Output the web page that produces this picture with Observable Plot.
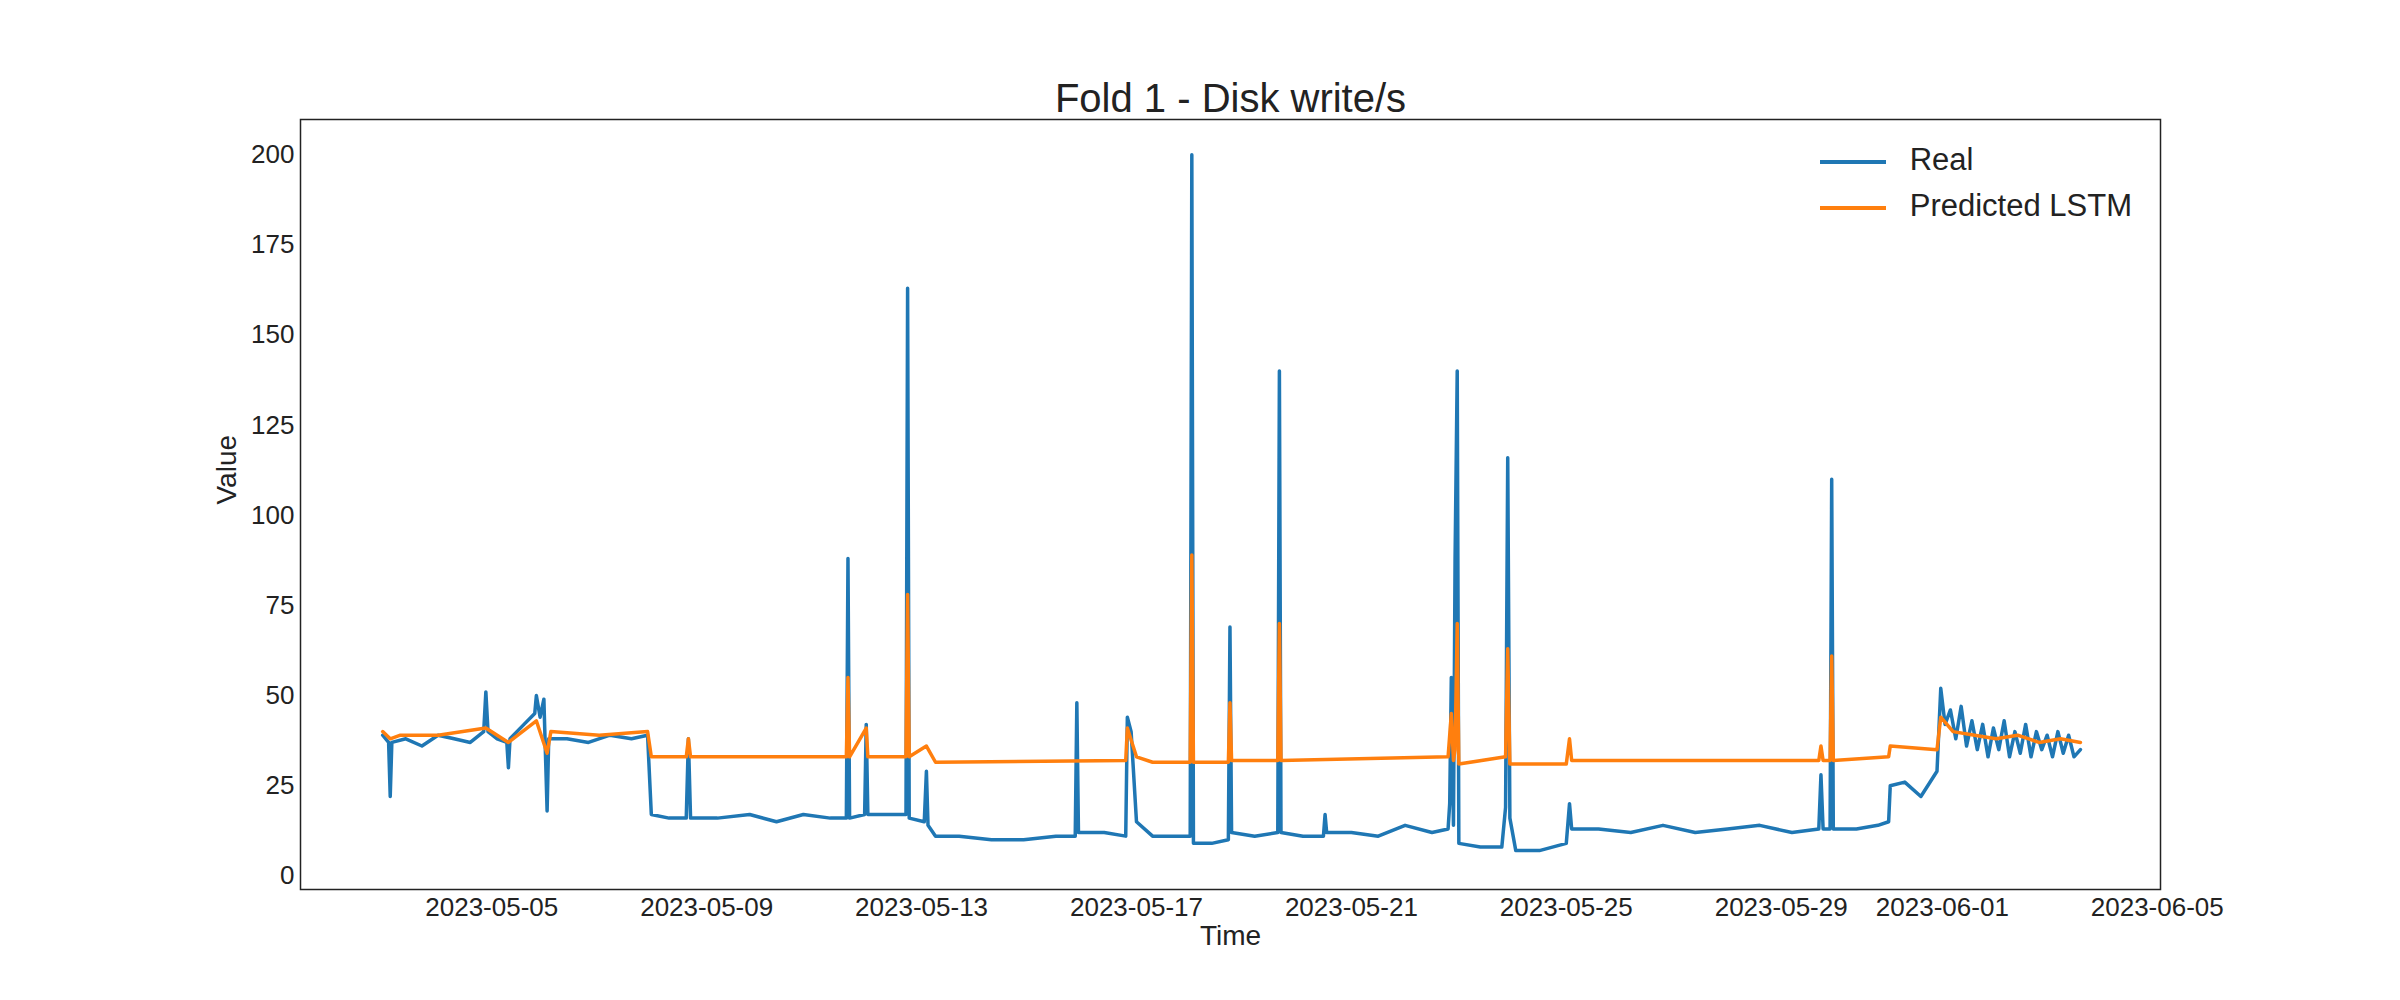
<!DOCTYPE html>
<html><head><meta charset="utf-8">
<script src="https://cdn.jsdelivr.net/npm/d3@7"></script>
<script src="https://cdn.jsdelivr.net/npm/@observablehq/plot@0.6"></script>
<style>
body{margin:0;background:#fff;font-family:"Liberation Sans",Arial,sans-serif}
#wrap{position:relative;width:2400px;height:1000px}
#legend{position:absolute;right:268px;top:137px;font-size:31px;color:#222;line-height:46px}
#legend span.sw{display:inline-block;width:66px;height:4px;vertical-align:middle;margin-right:24px}
</style></head>
<body><div id="wrap"><div id="chart"></div>
<div id="legend"><div><span class="sw" style="background:#1f77b4"></span>Real</div><div><span class="sw" style="background:#ff7f0e"></span>Predicted LSTM</div></div></div>
<script>
// day-of-May (June = 32+)
const realDay = [2.97,3.08,3.11,3.14,3.4,3.7,4.0,4.3,4.6,4.85,4.89,4.93,5.1,5.28,5.31,5.34,5.6,5.8,5.83,5.9,5.97,6.03,6.06,6.4,6.8,7.2,7.6,7.9,7.97,8.3,8.62,8.66,8.70,9.2,9.8,10.3,10.8,11.3,11.6,11.63,11.66,11.94,11.97,12.0,12.4,12.71,12.74,12.77,13.05,13.09,13.12,13.26,13.7,14.3,14.9,15.5,15.86,15.89,15.92,16.4,16.8,16.83,16.9,17.0,17.3,17.7,18.0,18.03,18.06,18.4,18.71,18.74,18.77,19.2,19.63,19.66,19.69,20.1,20.48,20.51,20.54,21.0,21.5,22.0,22.5,22.8,22.83,22.86,22.9,22.93,22.97,23.0,23.4,23.8,23.87,23.91,23.95,24.06,24.5,25.0,25.06,25.1,25.6,26.2,26.8,27.4,28.0,28.6,29.2,29.7,29.74,29.78,29.91,29.94,29.97,30.4,30.8,31.0,31.03,31.3,31.6,31.9,31.97,32.05,32.15,32.25,32.35,32.45,32.55,32.65,32.75,32.85,32.95,33.05,33.15,33.25,33.35,33.45,33.55,33.65,33.75,33.85,33.95,34.05,34.15,34.25,34.35,34.45,34.57];
const realVal = [39,37,22,37,38,36,39,38,37,40,51,40,38,37,30,38,42,45,50,44,49,18,38,38,37,39,38,39,17,16,16,38,16,16,17,15,17,16,16,88,16,17,42,17,17,17,163,16,15,29,14,11,11,10,10,11,11,48,12,12,11,44,40,15,11,11,11,200,9,9,10,69,12,11,12,140,12,11,11,17,12,12,11,14,12,13,20,55,14,88,140,9,8,8,19,116,16,7,7,9,20,13,13,12,14,12,13,14,12,13,28,13,13,110,13,13,14,15,25,26,22,29,52,42,46,38,47,36,43,35,42,33,41,35,43,33,40,34,42,33,40,35,39,33,40,34,39,33,35];
const predDay = [2.97,3.11,3.3,4.0,4.89,5.31,5.83,6.03,6.1,7.0,7.9,7.97,8.62,8.66,8.70,10,11.6,11.63,11.66,11.97,12.0,12.71,12.74,12.77,13.09,13.26,16.8,16.83,17.0,17.3,18.0,18.03,18.06,18.71,18.74,18.77,19.63,19.66,19.69,22.8,22.86,22.9,22.93,22.97,23.0,23.87,23.91,23.95,25.0,25.06,25.1,29.7,29.74,29.78,29.91,29.94,29.97,31.0,31.03,31.9,31.97,32.2,32.6,33.0,33.4,33.8,34.2,34.57];
const predVal = [40,38,39,39,41,37,43,34,40,39,40,33,33,38,33,33,33,55,33,41,33,33,78,33,36,31.5,32,41,33,31.5,31.5,89,31.5,31.5,48,32,32,70,32,33,45,32,35,70,31,33,63,31,31,38,32,32,36,32,32,61,32,33,36,35,44,40,39,38,39,37,38,37];
const yTicks = [0,25,50,75,100,125,150,175,200];
const xTicks = ["2023-05-05","2023-05-09","2023-05-13","2023-05-17","2023-05-21","2023-05-25","2023-05-29","2023-06-01","2023-06-05"];

const toDate = d => new Date(Date.UTC(2023,4,1) + (d-1)*864e5);
const real = realDay.map((d,i)=>({t:toDate(d), v:realVal[i]}));
const pred = predDay.map((d,i)=>({t:toDate(d), v:predVal[i]}));

const chart = Plot.plot({
  width:2400, height:1000,
  marginLeft:300, marginRight:240, marginTop:119, marginBottom:111,
  style:{fontSize:"26px", fontFamily:"Liberation Sans, Arial, sans-serif", color:"#222"},
  x:{type:"utc", domain:[toDate(1.44), toDate(36.06)], ticks:xTicks.map(s=>new Date(s+"T00:00Z")),
     tickFormat:d3.utcFormat("%Y-%m-%d"), tickSize:0, tickPadding:8, label:null},
  y:{domain:[-3.8,209.8], ticks:yTicks, tickSize:0, tickPadding:6, label:null},
  marks:[
    Plot.line(real,{x:"t", y:"v", stroke:"#1f77b4", strokeWidth:3.5}),
    Plot.line(pred,{x:"t", y:"v", stroke:"#ff7f0e", strokeWidth:3.5}),
    Plot.frame({stroke:"#222", strokeWidth:1.5}),
    Plot.text(["Fold 1 - Disk write/s"],{frameAnchor:"top", dy:-36, fontSize:40, fill:"#222"}),
    Plot.text(["Time"],{frameAnchor:"bottom", dy:55, fontSize:28, fill:"#222"}),
    Plot.text(["Value"],{frameAnchor:"left", dx:-73, rotate:-90, fontSize:28, fill:"#222"})
  ]
});
document.getElementById("chart").append(chart);
</script></body></html>
